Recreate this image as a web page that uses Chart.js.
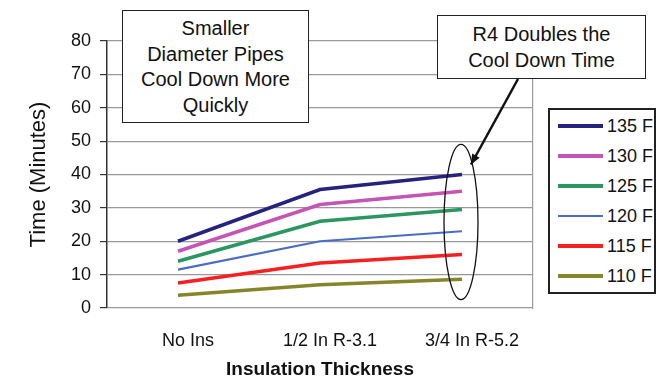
<!DOCTYPE html>
<html>
<head>
<meta charset="utf-8">
<script src="https://cdn.jsdelivr.net/npm/chart.js@4.4.1/dist/chart.umd.min.js"></script>
<style>
  html, body { margin: 0; padding: 0; background: #fff; }
  #wrap { position: relative; width: 662px; height: 381px; font-family: "Liberation Sans", Arial, sans-serif; }
  #c { position: absolute; left: 0; top: 0; }
  .note { position: absolute; background: #fff; border: 1.5px solid #222; box-sizing: border-box;
          font-size: 20px; line-height: 25.7px; text-align: center; color: #111; }
  #legend { position: absolute; left: 548px; top: 108px; width: 108px; height: 186px; box-sizing: border-box;
            border: 2px solid #222; background: #fff; padding-top: 1px; }
  .item { display: flex; align-items: center; height: 30px; font-size: 18px; color: #111; }
  .swatch { width: 45px; margin-left: 8px; margin-right: 4px; }
</style>
</head>
<body>
<div id="wrap">
  <canvas id="c" width="662" height="381"></canvas>
  <div id="legend"></div>
  <div class="note" style="left:122px;top:10px;width:187px;height:113px;padding-top:5px;">Smaller<br>Diameter Pipes<br>Cool Down More<br>Quickly</div>
  <div class="note" style="left:437px;top:15px;width:209px;height:64px;padding-top:6px;">R4 Doubles the<br>Cool Down Time</div>
</div>
<script>
// categories and series
const categories = ['No Ins', '1/2 In R-3.1', '3/4 In R-5.2'];
const seriesNames = ['135 F', '130 F', '125 F', '120 F', '115 F', '110 F'];
const t135 = [20, 35.5, 40];
const t130 = [17, 31, 35];
const t125 = [14, 26, 29.5];
const t120 = [11.5, 20, 23];
const t115 = [7.5, 13.5, 16];
const t110 = [3.8, 7, 8.6];
const yTicks = [0, 10, 20, 30, 40, 50, 60, 70, 80];

const colors = ['#25237e', '#c455b4', '#2a9660', '#4a6cc4', '#f52020', '#85852a'];
const widths = [3.5, 3.5, 3.5, 2.2, 3.5, 3.5];
const allSeries = [t135, t130, t125, t120, t115, t110];

const FONT = '"Liberation Sans", Arial, sans-serif';

// ellipse + arrow on the last category
const notePlugin = {
	id: 'note',
	afterDatasetsDraw(chart) {
		const { ctx, scales: { x, y } } = chart;
		const cx = x.getPixelForValue(2);
		const top = y.getPixelForValue(49), bot = y.getPixelForValue(2.5);
		ctx.save();
		ctx.strokeStyle = '#111';
		ctx.lineWidth = 1.3;
		ctx.beginPath();
		ctx.ellipse(cx - 1, (top + bot) / 2, 17, (bot - top) / 2, 0, 0, Math.PI * 2);
		ctx.stroke();
		// arrow
		const x0 = 518, y0 = 79, x1 = cx + 9, y1 = y.getPixelForValue(43);
		ctx.lineWidth = 2.5;
		ctx.beginPath(); ctx.moveTo(x0, y0); ctx.lineTo(x1, y1); ctx.stroke();
		const a = Math.atan2(y1 - y0, x1 - x0);
		ctx.fillStyle = '#111';
		ctx.beginPath();
		ctx.moveTo(x1, y1);
		ctx.lineTo(x1 - 11 * Math.cos(a - 0.4), y1 - 11 * Math.sin(a - 0.4));
		ctx.lineTo(x1 - 11 * Math.cos(a + 0.4), y1 - 11 * Math.sin(a + 0.4));
		ctx.closePath(); ctx.fill();
		ctx.restore();
	}
};

new Chart(document.getElementById('c'), {
	type: 'line',
	data: {
		labels: categories,
		datasets: allSeries.map((d, i) => ({
			label: seriesNames[i], data: d, borderColor: colors[i], backgroundColor: colors[i],
			borderWidth: widths[i], pointRadius: 0, tension: 0, fill: false
		}))
	},
	options: {
		responsive: false, animation: false,
		layout: { padding: { top: 41, right: 129, bottom: 0, left: 0 } },
		plugins: { legend: { display: false }, tooltip: { enabled: false } },
		scales: {
			x: {
				offset: true,
				grid: { display: false },
				border: { display: false },
				ticks: { color: '#111', font: { family: FONT, size: 18 }, padding: 14, labelOffset: 10, maxRotation: 0 },
				title: { display: true, text: 'Insulation Thickness', color: '#111', font: { family: FONT, size: 19, weight: 'bold' }, padding: { top: 0, bottom: 0 } },
				afterFit: s => { s.height = 73; }
			},
			y: {
				min: 0, max: 80,
				afterBuildTicks: s => { s.ticks = yTicks.map(v => ({ value: v })); },
				grid: { color: '#999', lineWidth: 1.2, tickLength: 7, tickColor: '#333' },
				border: { color: '#333', width: 1.5 },
				ticks: { color: '#111', font: { family: FONT, size: 18 }, padding: 9 },
				title: { display: true, text: 'Time (Minutes)', color: '#111', font: { family: FONT, size: 22 }, padding: { top: 26, bottom: 0 } },
				afterFit: s => { s.width = 107; }
			},
			y2: {
				position: 'right', min: 0, max: 80,
				grid: { display: false }, ticks: { display: false },
				border: { color: '#999', width: 1.2 },
				afterFit: s => { s.width = 0; }
			}
		}
	},
	plugins: [notePlugin]
});

// legend box
const lg = document.getElementById('legend');
seriesNames.forEach((n, i) => {
	const row = document.createElement('div');
	row.className = 'item';
	row.innerHTML = `<div class="swatch" style="height:${Math.round(widths[i])}px;background:${colors[i]}"></div><span>${n}</span>`;
	lg.appendChild(row);
});
</script>
</body>
</html>
